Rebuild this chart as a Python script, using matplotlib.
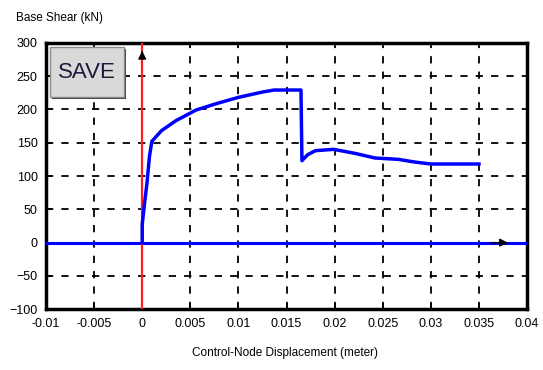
import matplotlib
matplotlib.use("Agg")
import matplotlib.pyplot as plt
from matplotlib.patches import Rectangle

plt.rcParams['font.family'] = ['Liberation Sans', 'DejaVu Sans']

# pushover curve
disp = [0.0, 0.0, 0.0002, 0.0005, 0.00075, 0.001, 0.002, 0.0035, 0.0056, 0.0078,
        0.0100, 0.0125, 0.0137, 0.0165, 0.0166, 0.0172, 0.018, 0.0199, 0.0221,
        0.0242, 0.0266, 0.0283, 0.0300, 0.0350]
shear = [0, 27, 54, 90, 129, 152, 168, 183, 199, 209,
         218, 226, 229, 229, 123, 132, 138, 140, 134,
         127, 125, 121, 118, 118]

xticks = [-0.01, -0.005, 0, 0.005, 0.01, 0.015, 0.02, 0.025, 0.03, 0.035, 0.04]
xticklabels = ['-0.01', '-0.005', '0', '0.005', '0.01', '0.015', '0.02', '0.025',
               '0.03', '0.035', '0.04']
yticks = [-100, -50, 0, 50, 100, 150, 200, 250, 300]

fig = plt.figure(figsize=(5.43, 3.70), dpi=100)
ax = fig.add_axes([0.0847, 0.164, 0.886, 0.7206])

ax.set_xlim(-0.01, 0.04)
ax.set_ylim(-100, 300)
ax.set_xticks(xticks)
ax.set_xticklabels(xticklabels)
ax.set_yticks(yticks)
ax.tick_params(direction='in', length=4, width=1.2, labelsize=9, pad=6, colors='black')
ax.grid(True, color='black', linestyle=(0, (4, 4.5)), linewidth=1.3)
for s in ax.spines.values():
    s.set_linewidth(2.5)

# axis lines
ax.axhline(0, color='#0000ff', linewidth=2.2, zorder=3)
ax.axvline(0, color='#ff2020', linewidth=1.6, zorder=3)
ax.annotate('', xy=(0.0383, 0), xytext=(0.036, 0),
            arrowprops=dict(arrowstyle='-|>', color='black', lw=1, mutation_scale=12), zorder=4)
ax.annotate('', xy=(0, 292), xytext=(0, 280),
            arrowprops=dict(arrowstyle='-|>', color='black', lw=1, mutation_scale=12), zorder=4)

ax.plot(disp, shear, color='#0000ff', linewidth=2.5, zorder=4)

# SAVE button with a shadow edge
shadow = Rectangle((52 / 543, 1 - 99 / 370), 74 / 543, 50 / 370,
                   transform=fig.transFigure, facecolor='#404040', edgecolor='none', zorder=9)
btn = Rectangle((50 / 543, 1 - 97 / 370), 74 / 543, 50 / 370,
                transform=fig.transFigure, facecolor='#d9d9d9', edgecolor='#8a8a8a',
                linewidth=1.0, zorder=10)
fig.patches.extend([shadow, btn])
fig.text(87 / 543, 1 - 72 / 370, 'SAVE', ha='center', va='center', fontsize=16,
         color='#1a1a3a', zorder=11)

fig.text(16 / 543, 1 - 18 / 370, 'Base Shear (kN)', fontsize=8.5, ha='left', va='center')
fig.text(0.525, 1 - 353 / 370, 'Control-Node Displacement (meter)', fontsize=8.5,
         ha='center', va='center')

fig.savefig('out.png', dpi=100)
